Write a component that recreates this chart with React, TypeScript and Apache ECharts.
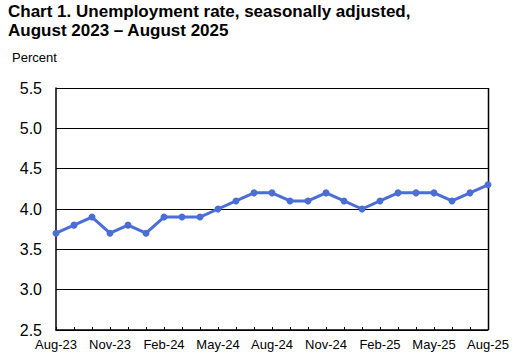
import React, { useEffect, useRef } from "react";
import * as echarts from "echarts";

const months = [
  "Aug-23", "Sep-23", "Oct-23", "Nov-23", "Dec-23", "Jan-24", "Feb-24", "Mar-24", "Apr-24",
  "May-24", "Jun-24", "Jul-24", "Aug-24", "Sep-24", "Oct-24", "Nov-24", "Dec-24", "Jan-25",
  "Feb-25", "Mar-25", "Apr-25", "May-25", "Jun-25", "Jul-25", "Aug-25",
];
const rates = [
  3.7, 3.8, 3.9, 3.7, 3.8, 3.7, 3.9, 3.9, 3.9, 4.0, 4.1, 4.2, 4.2, 4.1, 4.1, 4.2, 4.1, 4.0,
  4.1, 4.2, 4.2, 4.2, 4.1, 4.2, 4.3,
];
const titleText = "Chart 1. Unemployment rate, seasonally adjusted,\nAugust 2023 \u2013 August 2025";
const yAxisName = "Percent";

const FONT = "'Liberation Sans', Arial, sans-serif";

export default function App() {
  const ref = useRef<HTMLDivElement>(null);
  useEffect(() => {
    if (!ref.current) return;
    const chart = echarts.init(ref.current, null, { renderer: "svg" });
    chart.setOption({
      animation: false,
      backgroundColor: "#ffffff",
      title: {
        text: titleText,
        left: 8,
        top: 0,
        padding: [2, 0, 0, 0],
        textStyle: { fontFamily: FONT, fontSize: 17, fontWeight: "bold", color: "#000", lineHeight: 19 },
      },
      graphic: [
        {
          type: "text",
          left: 12,
          top: 51,
          style: { text: yAxisName, font: `13px ${FONT}`, fill: "#000" },
        },
        {
          type: "line",
          shape: { x1: 488.5, y1: 88, x2: 488.5, y2: 330 },
          style: { stroke: "#000", lineWidth: 1.5 },
        },
      ],
      grid: { left: 56, right: 28, top: 88, bottom: 31 },
      xAxis: {
        type: "category",
        data: months,
        boundaryGap: false,
        axisLine: { show: true, lineStyle: { color: "#000", width: 1.5 } },
        axisTick: { show: true, inside: true, length: 3, interval: 0, lineStyle: { color: "#000" } },
        axisLabel: {
          interval: 2,
          fontFamily: FONT,
          fontSize: 13,
          color: "#000",
          margin: 8,
        },
        splitLine: { show: false },
      },
      yAxis: {
        type: "value",
        min: 2.5,
        max: 5.5,
        interval: 0.5,
        axisLine: { show: true, lineStyle: { color: "#000", width: 1.5 } },
        axisTick: { show: false },
        axisLabel: {
          fontFamily: FONT,
          fontSize: 16,
          color: "#000",
          margin: 14,
          formatter: (v: number) => v.toFixed(1),
        },
        splitLine: { show: true, lineStyle: { color: "#000", width: 1 } },
      },
      series: [
        {
          type: "line",
          data: rates,
          symbol: "circle",
          symbolSize: 7,
          lineStyle: { color: "#4A6ED8", width: 3 },
          itemStyle: { color: "#4A6ED8" },
        },
      ],
    });
    return () => chart.dispose();
  }, []);
  return <div ref={ref} style={{ width: 516, height: 361, position: "absolute", left: 0, top: 0 }} />;
}
